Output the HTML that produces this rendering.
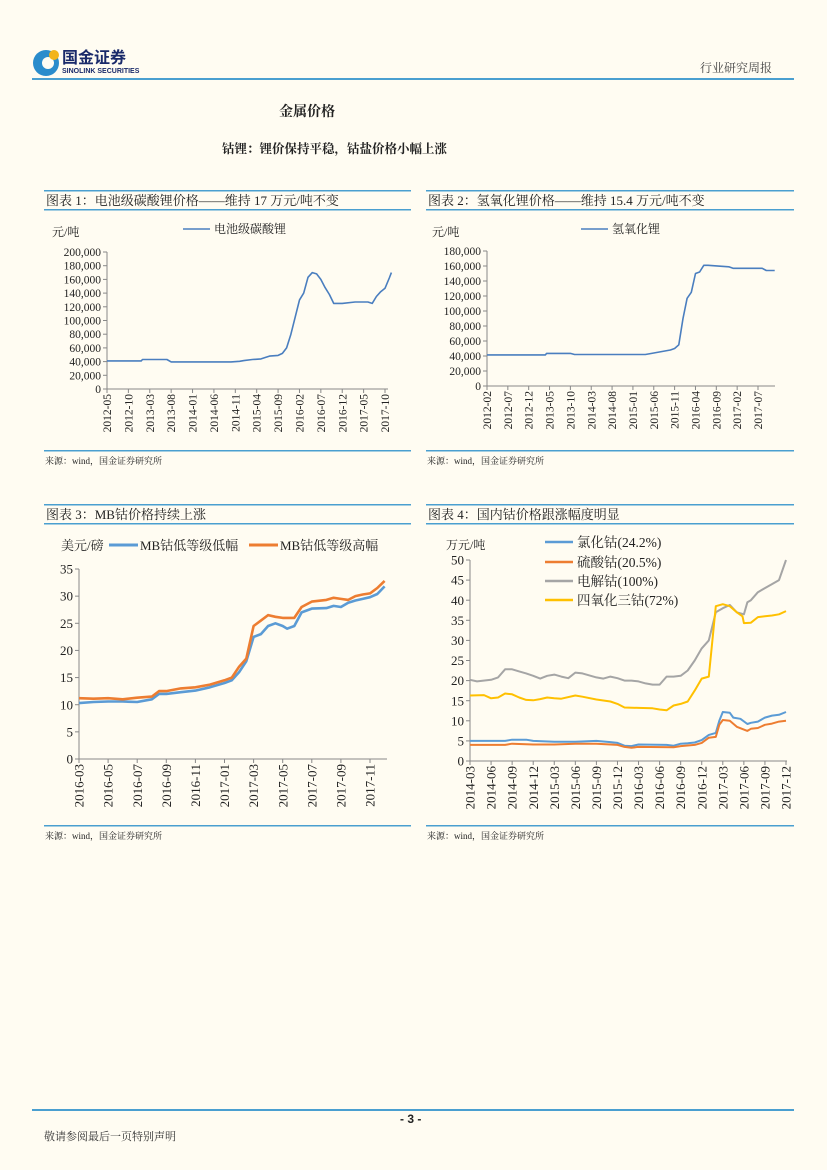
<!DOCTYPE html>
<html><head><meta charset="utf-8">
<style>
html,body{margin:0;padding:0;background:#fffcf2;}
body{width:827px;height:1170px;position:relative;overflow:hidden;font-family:"Liberation Serif","Noto Serif CJK SC",serif;color:#222;}
.abs{position:absolute;white-space:nowrap;}
</style></head>
<body>
<div class="abs" style="left:32px;top:46px;width:120px;height:32px;">
  <svg width="120" height="32"><circle cx="14" cy="17" r="13" fill="#2a8ccc"/><circle cx="16" cy="17" r="6" fill="#fffcf2"/><circle cx="22" cy="9" r="5" fill="#f2b41c"/></svg>
  <div class="abs" style="left:30px;top:2px;font:bold 16px/16px 'Noto Sans CJK SC',sans-serif;color:#1a2a6a;">国金证券</div>
  <div class="abs" style="left:30px;top:22px;font:bold 7px/7px 'Liberation Sans',sans-serif;color:#1a2a6a;">SINOLINK SECURITIES</div>
</div>
<div class="abs" style="left:700px;top:59px;font-size:12px;color:#444;">行业研究周报</div>
<div class="abs" style="left:32px;top:78px;width:762px;height:2px;background:#4a9fd0;"></div>
<div class="abs" style="left:279px;top:101px;font-weight:bold;font-size:14px;">金属价格</div>
<div class="abs" style="left:222px;top:139px;font-weight:bold;font-size:12.5px;">钴锂：锂价保持平稳，钴盐价格小幅上涨</div>

<svg id="s" class="abs" style="left:0;top:0" width="827" height="1170"></svg>

<div class="abs" style="left:32px;top:1109px;width:762px;height:2px;background:#4a9fd0;"></div>
<div class="abs" style="left:400px;top:1112px;font:bold 12px 'Liberation Sans',sans-serif;">- 3 -</div>
<div class="abs" style="left:44px;top:1128px;font-size:11px;color:#333;">敬请参阅最后一页特别声明</div>

<script>
// Chart 1: 电池级碳酸锂 (months since 2012-05)
const c1Months=[0,8,8.3,14,15,29,31,32,34,36,37,38,40,41,42,43,44,45,46,47,48,49,50,51,52,53,54,55,58,59,61,62,63,64,65,66];
const c1Values=[41000,41000,43000,43000,39500,39500,40500,41500,43000,44000,46000,48000,49000,52000,60000,80000,105000,130000,140000,163000,170000,168000,160000,148000,138000,125000,125000,125000,127000,127000,127000,125000,135000,142000,147000,162000];
c1Values.push(170000); c1Months.push(66.5);
const c1Ticks=['2012-05','2012-10','2013-03','2013-08','2014-01','2014-06','2014-11','2015-04','2015-09','2016-02','2016-07','2016-12','2017-05','2017-10'];
const c1YTicks=[0,20000,40000,60000,80000,100000,120000,140000,160000,180000,200000];

// Chart 2: 氢氧化锂 (months since 2012-02)
const c2Months=[0,14,14.3,20,21,38,40,42,44,45,46,47,48,49,50,51,52,53,58,59,66,67,69];
const c2Values=[41500,41500,43500,43500,42000,42000,44000,46000,48000,50000,55000,90000,117000,125000,150000,152000,161000,161000,159000,157000,157000,154000,154000];
const c2Ticks=['2012-02','2012-07','2012-12','2013-05','2013-10','2014-03','2014-08','2015-01','2015-06','2015-11','2016-04','2016-09','2017-02','2017-07'];
const c2YTicks=[0,20000,40000,60000,80000,100000,120000,140000,160000,180000];

// Chart 3: MB钴 (months since 2016-03)
const c3Months=[0,1,2,3,4,5,5.5,6,7,8,9,10,10.5,11,11.5,12,12.5,13,13.5,14,14.3,14.8,15.3,16,17,17.5,18,18.5,19,19.5,20,20.5,21];
const c3Low=[10.3,10.5,10.6,10.6,10.5,11.0,12.0,12.0,12.3,12.6,13.2,14.0,14.5,16.0,18.0,22.5,23.0,24.5,25.0,24.5,24.0,24.5,27.0,27.7,27.8,28.2,28.0,28.8,29.2,29.5,29.8,30.4,31.8];
const c3High=[11.2,11.1,11.2,11.0,11.3,11.5,12.5,12.5,13.0,13.2,13.7,14.5,15.0,17.0,18.5,24.5,25.5,26.5,26.2,26.0,26.0,26.0,28.0,29.0,29.3,29.7,29.5,29.3,30.0,30.3,30.5,31.5,32.8];
const c3Ticks=['2016-03','2016-05','2016-07','2016-09','2016-11','2017-01','2017-03','2017-05','2017-07','2017-09','2017-11'];
const c3YTicks=[0,5,10,15,20,25,30,35];

// Chart 4: 国内钴价 (months since 2014-03)
const c4BlueM=[0,5,6,8,9,12,15,18,20,21,22,23,24,28,29,30,31,32,33,34,35,35.5,36,37,37.5,38.5,39.5,40,41,42,43,44,45];
const c4Blue=[5,5,5.3,5.3,5.0,4.8,4.8,5.0,4.7,4.5,3.8,3.7,4.1,4.0,3.8,4.3,4.4,4.6,5.2,6.5,7,10,12.2,12.0,10.8,10.5,9.2,9.5,9.8,10.8,11.3,11.5,12.2];
const c4OrangeM=[0,5,6,9,12,15,18,21,22,23,24,29,30,32,33,34,35,35.5,36,37,38,39.5,40,41,42,43,44,45];
const c4Orange=[4,4,4.3,4.1,4.1,4.3,4.3,4.0,3.5,3.3,3.5,3.4,3.7,4.0,4.5,5.8,6,9,10.2,10.0,8.5,7.5,8.0,8.2,9.0,9.3,9.8,10.0];
const c4GrayM=[0,1,3,4,5,6,7,8,9,10,11,12,13,14,15,16,17,18,19,20,21,22,23,24,25,26,27,28,29,30,31,32,33,34,35,36,37,38,39,39.5,40,41,42,43,44,45];
const c4Gray=[20.2,19.8,20.2,20.8,22.8,22.8,22.3,21.8,21.2,20.5,21.2,21.5,21.0,20.6,22.0,21.8,21.3,20.8,20.5,21.0,20.6,20.0,20.0,19.8,19.3,19.0,19.0,21.0,21.0,21.2,22.5,25,28,30,37,38,38.8,37,36.5,39.5,40,42,43,44,45,50];
const c4YellowM=[0,2,3,4,5,6,7,8,9,10,11,12,13,15,16,18,20,21,22,24,26,27,28,29,30,31,32,33,34,35,36,37,38,38.8,39,40,41,42,43,44,45];
const c4Yellow=[16.3,16.4,15.6,15.8,16.8,16.6,15.8,15.2,15.1,15.4,15.8,15.6,15.5,16.3,16.0,15.3,14.8,14.2,13.3,13.2,13.1,12.8,12.6,13.8,14.2,14.8,17.5,20.5,21,38.5,39,38.5,37,36,34.3,34.4,35.8,36,36.2,36.5,37.3];
const c4Ticks=['2014-03','2014-06','2014-09','2014-12','2015-03','2015-06','2015-09','2015-12','2016-03','2016-06','2016-09','2016-12','2017-03','2017-06','2017-09','2017-12'];
const c4YTicks=[0,5,10,15,20,25,30,35,40,45,50];

const NS='http://www.w3.org/2000/svg';
const svg=document.getElementById('s');
function el(tag,attrs,parent){const e=document.createElementNS(NS,tag);for(const k in attrs)e.setAttribute(k,attrs[k]);(parent||svg).appendChild(e);return e;}
function txt(x,y,s,size,anchor,parent,name,extra){
  const t=el('text',{x:x,y:y,'font-size':size,'text-anchor':anchor||'start','font-family':'"Liberation Serif","Noto Serif CJK SC",serif',fill:'#222'},parent);
  if(extra)for(const k in extra)t.setAttribute(k,extra[k]);
  t.textContent=s;
  
  
  return t;
}
function frame(x1,x2,yTop,yTitleLine,ySrc,title,name){
  const g=el('g',{});
  
  
  el('rect',{x:x1,y:yTop,width:x2-x1,height:1.5,fill:'#4a9fd0'},g);
  el('rect',{x:x1,y:yTitleLine,width:x2-x1,height:1.5,fill:'#4a9fd0'},g);
  el('rect',{x:x1,y:ySrc,width:x2-x1,height:1.5,fill:'#4a9fd0'},g);
  txt(x1+2,yTop+15,title,13,'start',g,name+'-title');
  txt(x1+1,ySrc+14,'来源：wind，国金证券研究所',9,'start',g,name+'-source');
}
function chart(o){
  const g=el('g',{});
  
  
  const xs=m=>o.x0+(m-o.m0)*(o.x1-o.x0)/(o.m1-o.m0);
  const ys=v=>o.yb-(v-o.v0)*(o.yb-o.yt)/(o.v1-o.v0);
  const ax=el('path',{d:`M${o.px0},${o.yt} V${o.yb} H${o.px1}`,stroke:'#888',fill:'none','stroke-width':1},g);
  
  
  o.yTicks.forEach(v=>{
    el('line',{x1:o.px0-4,x2:o.px0,y1:ys(v),y2:ys(v),stroke:'#888'},g);
    txt(o.px0-6,ys(v)+o.yfs*0.35,o.fmt(v),o.yfs,'end',g,o.name+'-y-tick');
  });
  o.xTicks.forEach((lab,i)=>{
    const m=o.m0+i*o.step; const x=xs(m);
    el('line',{x1:x,x2:x,y1:o.yb,y2:o.yb+4,stroke:'#888'},g);
    txt(x+o.xfs*0.35,o.yb+5,lab,o.xfs,'end',g,o.name+'-x-tick',{transform:`rotate(-90 ${x+o.xfs*0.35} ${o.yb+5})`});
  });
  o.series.forEach(s=>{
    const d=s.m.map((m,i)=>(i?'L':'M')+xs(m).toFixed(1)+','+ys(s.v[i]).toFixed(1)).join(' ');
    const p=el('path',{d:d,stroke:s.color,'stroke-width':s.w,fill:'none','stroke-linejoin':'round'},g);
    
    
  });
  return g;
}
const fmtK=v=>v.toLocaleString('en-US');

frame(44,411,190,209,450,'图表 1：电池级碳酸锂价格——维持 17 万元/吨不变','chart1');
frame(426,794,190,209,450,'图表 2：氢氧化锂价格——维持 15.4 万元/吨不变','chart2');
frame(44,411,504,523,825,'图表 3：MB钴价格持续上涨','chart3');
frame(426,794,504,523,825,'图表 4：国内钴价格跟涨幅度明显','chart4');

chart({name:'chart1-plot',x0:107,x1:385,m0:0,m1:65,px0:107,px1:388,yb:389,yt:252,v0:0,v1:200000,yTicks:c1YTicks,xTicks:c1Ticks,step:5,fmt:fmtK,yfs:11.5,xfs:11.5,
  series:[{m:c1Months,v:c1Values,color:'#4a7ebf',w:1.6,name:'lithium-carbonate-line'}]});
txt(52,236,'元/吨',12,'start',svg,'chart1-y-unit');
el('line',{x1:183,x2:210,y1:229,y2:229,stroke:'#4a7ebf','stroke-width':1.6});
txt(214,233,'电池级碳酸锂',12,'start',svg,'chart1-legend-label');

chart({name:'chart2-plot',x0:487,x1:758,m0:0,m1:65,px0:487,px1:775,yb:386,yt:251,v0:0,v1:180000,yTicks:c2YTicks,xTicks:c2Ticks,step:5,fmt:fmtK,yfs:11.5,xfs:11.5,
  series:[{m:c2Months,v:c2Values,color:'#4a7ebf',w:1.6,name:'lithium-hydroxide-line'}]});
txt(432,236,'元/吨',12,'start',svg,'chart2-y-unit');
el('line',{x1:581,x2:608,y1:229,y2:229,stroke:'#4a7ebf','stroke-width':1.6});
txt(612,233,'氢氧化锂',12,'start',svg,'chart2-legend-label');

chart({name:'chart3-plot',x0:79,x1:370,m0:0,m1:20,px0:79,px1:387,yb:759,yt:569,v0:0,v1:35,yTicks:c3YTicks,xTicks:c3Ticks,step:2,fmt:v=>String(v),yfs:13,xfs:13,
  series:[{m:c3Months,v:c3Low,color:'#5b9bd5',w:2.6,name:'mb-cobalt-low-line'},{m:c3Months,v:c3High,color:'#ed7d31',w:2.6,name:'mb-cobalt-high-line'}]});
txt(61,550,'美元/磅',13,'start',svg,'chart3-y-unit');
el('line',{x1:109,x2:138,y1:545,y2:545,stroke:'#5b9bd5','stroke-width':3});
txt(140,550,'MB钴低等级低幅',13,'start',svg,'chart3-legend-low');
el('line',{x1:249,x2:278,y1:545,y2:545,stroke:'#ed7d31','stroke-width':3});
txt(280,550,'MB钴低等级高幅',13,'start',svg,'chart3-legend-high');

chart({name:'chart4-plot',x0:470,x1:786,m0:0,m1:45,px0:470,px1:787,yb:761,yt:560,v0:0,v1:50,yTicks:c4YTicks,xTicks:c4Ticks,step:3,fmt:v=>String(v),yfs:13,xfs:13,
  series:[{m:c4GrayM,v:c4Gray,color:'#a5a5a5',w:2,name:'electrolytic-cobalt-line'},{m:c4YellowM,v:c4Yellow,color:'#ffc000',w:2,name:'cobalt-oxide-line'},{m:c4BlueM,v:c4Blue,color:'#5b9bd5',w:2,name:'cobalt-chloride-line'},{m:c4OrangeM,v:c4Orange,color:'#ed7d31',w:2,name:'cobalt-sulfate-line'}]});
txt(446,549,'万元/吨',12,'start',svg,'chart4-y-unit');
[['氯化钴(24.2%)','#5b9bd5',542],['硫酸钴(20.5%)','#ed7d31',562],['电解钴(100%)','#a5a5a5',581],['四氧化三钴(72%)','#ffc000',600]].forEach(l=>{
  el('line',{x1:545,x2:573,y1:l[2],y2:l[2],stroke:l[1],'stroke-width':2.4});
  txt(577,l[2]+5,l[0],13.5,'start',svg,'chart4-legend-entry');
});
</script>
</body></html>
